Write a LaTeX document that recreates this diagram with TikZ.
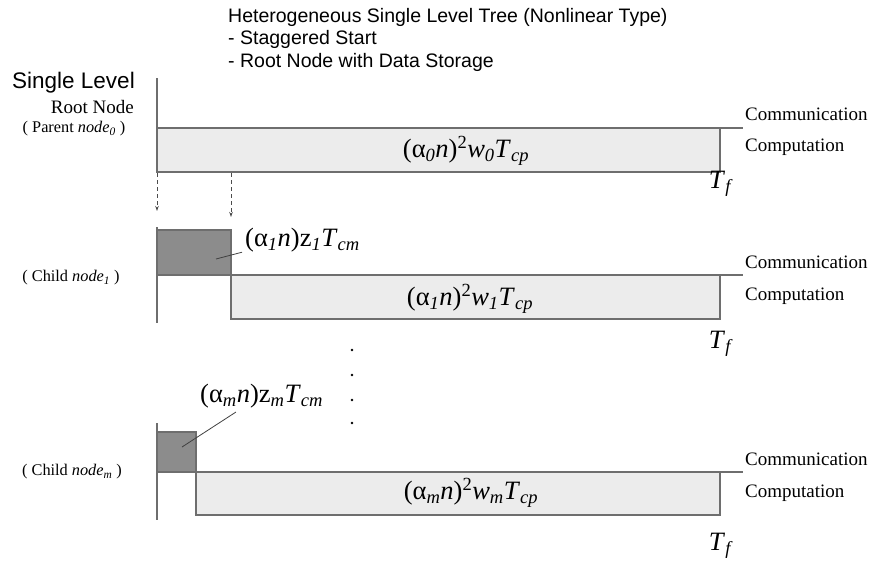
\documentclass[tikz,border=0pt]{standalone}
\usepackage{fontspec}
\setmainfont{Liberation Serif}
\setsansfont{Liberation Sans}
\usetikzlibrary{arrows.meta}

\definecolor{compgray}{RGB}{236,236,236}
\definecolor{commgray}{RGB}{140,140,140}
\definecolor{linegray}{RGB}{110,110,110}

\newcommand{\cpterm}[1]{(α\textsubscript{\textit{#1}}\textit{n})\textsuperscript{2}\textit{w}\textsubscript{\textit{#1}}\textit{T}\textsubscript{\textit{cp}}}
\newcommand{\cmterm}[1]{(α\textsubscript{\textit{#1}}\textit{n})z\textsubscript{\textit{#1}}\textit{T}\textsubscript{\textit{cm}}}
\newcommand{\tfin}{\textit{T}\textsubscript{\textit{f}}}

\begin{document}
\begin{tikzpicture}[x=1pt,y=-1pt,
  axis/.style={draw=linegray, line width=1.1pt},
  compbox/.style={draw=linegray, fill=compgray, line width=1.3pt},
  commbox/.style={draw=linegray, fill=commgray, line width=1.3pt},
  chanline/.style={draw=linegray, line width=1.3pt},
  formula/.style={inner sep=0pt, font=\fontsize{26.5}{30}\selectfont},
  tlabel/.style={inner sep=0pt, anchor=west, font=\fontsize{19}{22}\selectfont},
  rowname/.style={inner sep=0pt, font=\fontsize{16.3}{19}\selectfont},
  leader/.style={draw=black!75, line width=0.8pt},
  dasharrow/.style={draw=black!70, line width=0.9pt, dash pattern=on 4pt off 3pt, -{Stealth[length=5pt,width=3.5pt,sep=0pt]}}]

\useasboundingbox (0,0) rectangle (872,565);

% heading
\node[inner sep=0pt, anchor=north west, align=left, font=\sffamily\fontsize{19.5}{22.5}\selectfont] (head) at (228,8)
  {Heterogeneous Single Level Tree (Nonlinear Type)\\- Staggered Start\\- Root Node with Data Storage};
\node[inner sep=0pt, anchor=base east, font=\sffamily\fontsize{22.5}{26}\selectfont] (single) at (135,88) {Single Level};
\node[inner sep=0pt, anchor=base east, font=\fontsize{19}{22}\selectfont] (root) at (134,113) {Root Node};
\node[rowname] (parent) at (74,129) {( Parent \textit{node}\textsubscript{\textit{0}} )};

% root row
\draw[axis] (157,78) -- (157,173);
\draw[compbox] (157,128) rectangle (720,172);
\draw[chanline] (157,128) -- (743,128);
\node[formula] (cp0) at (466,151) {\cpterm{0}};
\node[tlabel] (comm0) at (745,114) {Communication};
\node[tlabel] (comp0) at (745,147) {Computation};
\node[formula] (tf0) at (721,184) {\tfin};

% staggered start
\coordinate (s0) at (157,173);
\coordinate (e0) at (157,211);
\coordinate (s1) at (231,173);
\coordinate (e1) at (231,217);
\draw[dasharrow] (s0) -- (e0);
\draw[dasharrow] (s1) -- (e1);

% child 1
\node[rowname] (child1) at (71,278) {( Child \textit{node}\textsubscript{\textit{1}} )};
\draw[axis] (157,227) -- (157,323);
\draw[commbox] (157,230) rectangle (231,275);
\draw[compbox] (231,275) rectangle (720,319);
\draw[chanline] (157,275) -- (743,275);
\node[formula, anchor=west] (cm1) at (245,240) {\cmterm{1}};
\coordinate (p1) at (216,259);
\draw[leader] (p1) -- ([xshift=-3pt,yshift=0pt]cm1.south west);
\node[formula] (cp1) at (470,299) {\cpterm{1}};
\node[tlabel] (comm1) at (745,262) {Communication};
\node[tlabel] (comp1) at (745,296) {Computation};
\node[formula] (tf1) at (721,344) {\tfin};

% more children
\foreach \y in {350,375,400,423}
  \fill (352,\y) circle (1.3);

% child m
\node[rowname] (childm) at (72,472) {( Child \textit{node}\textsubscript{\textit{m}} )};
\draw[axis] (157,423) -- (157,520);
\draw[commbox] (157,432) rectangle (196,472);
\draw[compbox] (196,472) rectangle (720,515);
\draw[chanline] (157,472) -- (743,472);
\node[formula, anchor=west] (cmm) at (200,396) {\cmterm{m}};
\coordinate (pm) at (182,447);
\coordinate (qm) at (236,412);
\draw[leader] (pm) -- (qm);
\node[formula] (cpm) at (471,493) {\cpterm{m}};
\node[tlabel] (commm) at (745,459) {Communication};
\node[tlabel] (compm) at (745,493) {Computation};
\node[formula] (tfm) at (721,546) {\tfin};

\end{tikzpicture}
\end{document}
